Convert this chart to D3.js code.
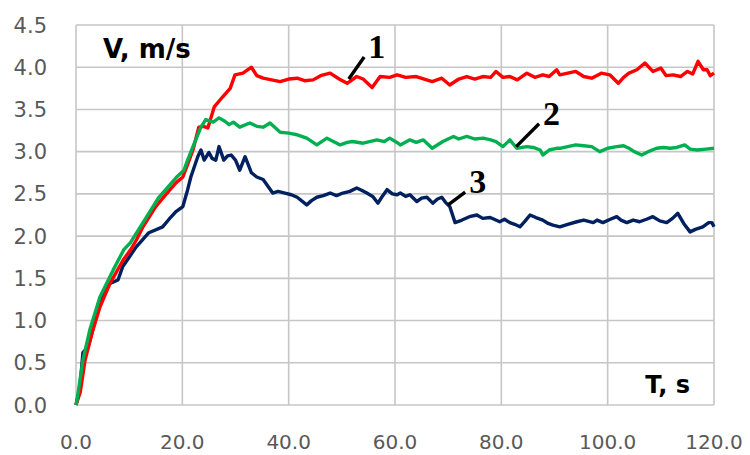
<!DOCTYPE html>
<html>
<head>
<meta charset="utf-8">
<script src="https://cdn.jsdelivr.net/npm/d3@7"></script>
<style>
  body { margin: 0; background: #fff; }
  svg { display: block; }
</style>
</head>
<body>
<svg id="viz"></svg>
<script>
// Tick values and labels for both axes
const xTicks = [0, 20, 40, 60, 80, 100, 120];
const yTicks = [0, 0.5, 1, 1.5, 2, 2.5, 3, 3.5, 4, 4.5];

// Speed curves, as [time s, speed m/s]
const series1 = [[0,0],[0.8,0.15],[1.7,0.53],[3,0.85],[4.5,1.16],[6.4,1.44],[8.9,1.72],[10.3,1.84],[11.4,1.96],[12.6,2.11],[15,2.35],[17,2.5],[18.8,2.63],[20.1,2.7],[21,2.85],[22,3.02],[23.1,3.29],[24,3.3],[24.8,3.28],[26,3.53],[27.6,3.65],[29,3.75],[29.9,3.91],[31.4,3.93],[33,4.0],[34,3.9],[35.2,3.87],[36.8,3.85],[38.4,3.83],[40,3.86],[41.6,3.87],[43,3.84],[44.6,3.85],[46,3.9],[47.8,3.93],[49.5,3.86],[51,3.81],[52.8,3.89],[54,3.86],[55.7,3.76],[57.2,3.89],[59,3.88],[60.4,3.91],[62,3.88],[64,3.89],[65.5,3.86],[67,3.83],[68.8,3.87],[70.3,3.79],[72,3.86],[73.5,3.89],[75,3.86],[76.5,3.89],[78,3.88],[79,3.95],[80.3,3.88],[81.6,3.89],[83,3.85],[84.8,3.93],[86.3,3.88],[87.8,3.91],[89,3.89],[90.4,3.97],[91,3.91],[92.5,3.93],[94,3.95],[95.5,3.89],[97,3.87],[98.8,3.93],[100.4,3.91],[102,3.81],[103,3.88],[104,3.93],[105.5,3.97],[107,4.05],[108.5,3.95],[110,3.99],[111,3.9],[112.3,3.91],[113.7,3.89],[115,3.95],[116,3.92],[117,4.07],[118,3.97],[118.7,3.97],[119.3,3.9],[120,3.93]];

const series2 = [[0,0],[0.2,0.06],[1.3,0.53],[2.6,0.89],[4.5,1.28],[7,1.6],[9,1.84],[10.2,1.92],[12.6,2.16],[15.6,2.46],[18.8,2.69],[20.3,2.78],[21,2.9],[22,3.06],[23.5,3.29],[24.4,3.38],[25.8,3.35],[26.9,3.4],[28,3.36],[28.8,3.32],[29.6,3.35],[30.8,3.29],[32.7,3.34],[34,3.3],[35.2,3.29],[36.5,3.34],[38.4,3.23],[40,3.22],[41.6,3.2],[43.4,3.16],[45.3,3.08],[47.2,3.16],[49.7,3.08],[51,3.11],[52,3.12],[54,3.1],[56.6,3.14],[58,3.12],[59,3.16],[60.6,3.1],[61,3.08],[62.8,3.14],[64,3.11],[65.3,3.14],[67,3.04],[69,3.12],[71,3.18],[72,3.15],[73.5,3.18],[75,3.15],[76.6,3.16],[78,3.14],[79,3.12],[80.3,3.06],[81.6,3.14],[82.9,3.04],[84.8,3.06],[86,3.05],[87.3,3.02],[87.8,2.96],[89,3.02],[90.4,3.04],[91,3.04],[92.5,3.06],[94,3.08],[95.5,3.07],[97,3.06],[98.5,3.0],[100,3.04],[101.7,3.06],[103,3.07],[104,3.04],[105,3.0],[106.4,2.96],[108,3.01],[109.2,3.04],[110.5,3.05],[111.7,3.04],[113,3.05],[114.5,3.08],[115.5,3.03],[116.8,3.02],[118.5,3.03],[120,3.04]];

const series3 = [[0,0],[0.75,0.21],[1.3,0.62],[2.3,0.69],[3.6,1.0],[5.1,1.33],[6.4,1.44],[7.9,1.48],[8.8,1.64],[10,1.75],[11.3,1.87],[13.7,2.04],[16.3,2.11],[17.5,2.2],[18.8,2.29],[20.1,2.35],[21,2.55],[21.6,2.7],[22.9,2.94],[23.5,3.02],[24.1,2.9],[25,2.99],[25.6,2.92],[26.3,2.9],[26.9,3.06],[27.8,2.9],[28.5,2.95],[29.2,2.96],[30,2.9],[30.8,2.78],[31.8,2.94],[33,2.75],[34,2.7],[35.2,2.67],[36,2.6],[37,2.51],[38,2.53],[39.3,2.51],[40.5,2.49],[41.6,2.46],[43.4,2.37],[44.3,2.42],[45.3,2.46],[46.5,2.48],[47.8,2.51],[49,2.48],[50.2,2.51],[51.5,2.53],[52.8,2.57],[53.8,2.54],[54.7,2.51],[55.8,2.47],[56.8,2.39],[57.5,2.46],[58.5,2.55],[59.5,2.5],[60.4,2.49],[61,2.51],[62,2.47],[62.8,2.49],[64.1,2.41],[65,2.45],[66,2.46],[67.1,2.39],[68,2.44],[68.8,2.46],[69.5,2.4],[70.3,2.35],[71.3,2.16],[72.6,2.19],[74,2.23],[75.4,2.25],[76.5,2.21],[77.9,2.22],[79.7,2.17],[80.6,2.2],[81.6,2.16],[82.5,2.14],[83.5,2.11],[84.5,2.18],[85.4,2.25],[86.5,2.22],[87.8,2.19],[88.8,2.15],[89.7,2.13],[91,2.11],[92.5,2.14],[94.2,2.17],[95.5,2.19],[97.3,2.16],[98,2.19],[99.1,2.16],[100.5,2.2],[101.7,2.23],[102.5,2.19],[103.6,2.16],[104.8,2.19],[106,2.17],[107.3,2.2],[108.5,2.23],[109.8,2.18],[111.1,2.16],[112.2,2.21],[113.2,2.27],[114.3,2.15],[115.5,2.05],[116.5,2.08],[117.9,2.11],[119,2.16],[119.6,2.16],[120,2.11]];

// Curve numbers with their leader lines, in data units: [from t, from v, to t, to v]
const curveLabels = ["1", "2", "3"];
const leaders = [[51.3, 3.86, 54.2, 4.12], [82.8, 3.06, 87.1, 3.33], [70.0, 2.37, 73.2, 2.52]];

const width = 750, height = 455;

const svg = d3.select("#viz")
    .attr("width", width)
    .attr("height", height);

const x = d3.scaleLinear().domain([0, 120]).range([76, 714]);
const y = d3.scaleLinear().domain([0, 4.5]).range([405, 25]);

// grid (the outer border is also just grid lines)
svg.append("g").selectAll("line")
    .data(xTicks)
    .enter().append("line")
    .attr("x1", d => x(d)).attr("x2", d => x(d))
    .attr("y1", y(0)).attr("y2", y(4.5))
    .attr("stroke", "#c6c6c6")
    .attr("stroke-width", 1.6);

svg.append("g").selectAll("line")
    .data(yTicks)
    .enter().append("line")
    .attr("y1", d => y(d)).attr("y2", d => y(d))
    .attr("x1", x(0)).attr("x2", x(120))
    .attr("stroke", "#c6c6c6")
    .attr("stroke-width", 1.6);

// tick labels
svg.append("g").selectAll("text")
    .data(yTicks)
    .enter().append("text")
    .attr("x", 47)
    .attr("y", d => y(d) + 7.5)
    .attr("text-anchor", "end")
    .attr("font-family", "DejaVu Sans")
    .attr("font-size", 21)
    .attr("fill", "#595959")
    .text(d => d.toFixed(1));

svg.append("g").selectAll("text")
    .data(xTicks)
    .enter().append("text")
    .attr("x", d => x(d))
    .attr("y", 449)
    .attr("text-anchor", "middle")
    .attr("font-family", "DejaVu Sans")
    .attr("font-size", 20)
    .attr("fill", "#595959")
    .text(d => d.toFixed(1));

// axis titles sit inside the plot
svg.append("text")
    .attr("x", 103).attr("y", 58)
    .attr("font-family", "DejaVu Sans")
    .attr("font-weight", "bold")
    .attr("font-size", 26)
    .text("V, m/s");

svg.append("text")
    .attr("x", 690).attr("y", 393)
    .attr("text-anchor", "end")
    .attr("font-family", "DejaVu Sans")
    .attr("font-weight", "bold")
    .attr("font-size", 24)
    .text("T, s");

// the three curves
const line = d3.line()
    .x(d => x(d[0]))
    .y(d => y(d[1]));

const curves = [
    {data: series3, color: "#002060"},
    {data: series1, color: "#ff0000"},
    {data: series2, color: "#00b050"}
];

svg.append("g").selectAll("path")
    .data(curves)
    .enter().append("path")
    .attr("d", d => line(d.data))
    .attr("fill", "none")
    .attr("stroke", d => d.color)
    .attr("stroke-width", 3.4)
    .attr("stroke-linejoin", "round");

// leader lines and curve numbers
svg.append("g").selectAll("line")
    .data(leaders)
    .enter().append("line")
    .attr("x1", d => x(d[0])).attr("y1", d => y(d[1]))
    .attr("x2", d => x(d[2])).attr("y2", d => y(d[3]))
    .attr("stroke", "#000")
    .attr("stroke-width", 3.4);

svg.append("g").selectAll("text")
    .data(leaders)
    .enter().append("text")
    .attr("x", d => x(d[2]) + 4)
    .attr("y", d => y(d[3]) + 1)
    .attr("font-family", "Liberation Serif")
    .attr("font-weight", "bold")
    .attr("font-size", 34)
    .text((d, i) => curveLabels[i]);
</script>
</body>
</html>
